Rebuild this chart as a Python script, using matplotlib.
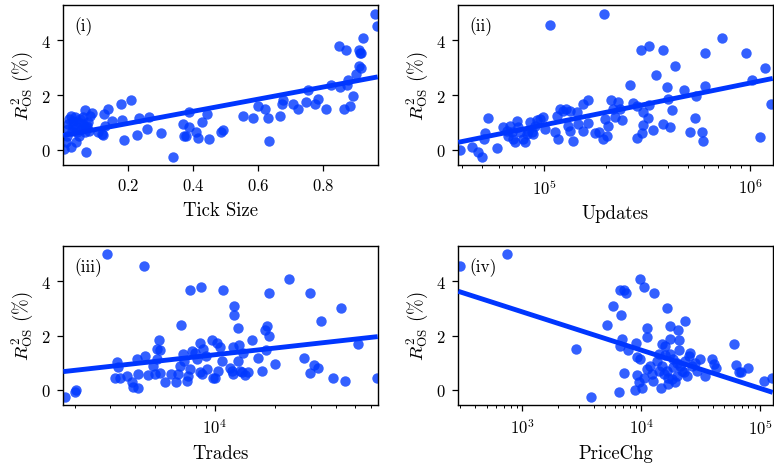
import numpy as np
import matplotlib
matplotlib.use("Agg")
import matplotlib.pyplot as plt

# ---------------- data ----------------
tick_x = [0.959, 0.964, 0.921, 0.847, 0.869, 0.908, 0.916, 0.912, 0.911, 0.915,
          0.899, 0.875, 0.851, 0.872, 0.824, 0.753, 0.892, 0.882, 0.864, 0.808,
          0.782, 0.773, 0.746, 0.721, 0.705, 0.677, 0.673, 0.665, 0.634, 0.631,
          0.621, 0.600, 0.583, 0.554,
          0.492, 0.485, 0.449, 0.443, 0.428, 0.415, 0.408, 0.388, 0.386, 0.367,
          0.372, 0.378, 0.338, 0.299, 0.257, 0.264, 0.234, 0.226, 0.207, 0.187,
          0.179, 0.182, 0.149, 0.136, 0.124, 0.123, 0.128, 0.108, 0.118,
          0.003, 0.007, 0.010, 0.013, 0.015, 0.018, 0.023, 0.024, 0.026, 0.029,
          0.031, 0.036, 0.039, 0.041, 0.043, 0.046, 0.049, 0.051, 0.056, 0.060,
          0.062, 0.067, 0.070, 0.074, 0.077, 0.080, 0.082, 0.070, 0.067, 0.087]
tick_y = [4.98, 4.54, 4.10, 3.79, 3.66, 3.66, 3.56, 3.55, 3.07, 3.00,
          2.76, 2.55, 2.28, 2.37, 2.37, 2.20, 1.96, 1.61, 1.49, 1.49,
          1.85, 1.67, 1.73, 1.48, 1.66, 1.83, 1.68, 1.22, 0.32, 1.17,
          1.49, 1.59, 1.16, 1.24,
          0.73, 0.63, 0.39, 1.30, 1.00, 0.41, 0.66, 1.39, 0.84, 0.94,
          0.49, 0.49, -0.28, 0.60, 0.76, 1.18, 1.17, 0.54, 1.83, 0.34,
          1.66, 1.10, 1.04, 1.48, 1.32, 0.52, 0.85, 0.63, 0.57,
          0.02, 0.27, 0.51, 0.76, 0.94, 1.12, 0.09, 1.24, 0.70, 0.88,
          1.06, 1.18, 0.29, 0.63, 0.82, 1.00, 0.51, 1.12, 0.76, 0.94,
          1.18, 0.66, 0.82, 0.88, 1.00, 0.70, 1.24, -0.07, 1.46, 1.34]

upd_x = [38900, 44400, 47400, 50000, 51500, 51100, 53500, 59000, 63200, 65600,
         68100, 66800, 69300, 70700, 72000, 73300, 74800, 76200, 79100, 80500,
         82000, 83600, 85100, 86700, 88500, 90200, 91800, 95300, 98900, 101000,
         113000, 115000, 117000, 119000, 124000, 128000, 133000, 131000, 133000, 138000,
         144000, 146000, 155000, 155000, 163000, 164000, 176000, 185000, 194000, 201000,
         197000, 205000, 212000, 216000, 229000, 233000, 221000, 238000, 271000, 281000,
         303000, 321000, 324000, 303000, 297000, 281000, 339000, 261000, 295000, 323000,
         379000, 348000, 432000, 394000, 401000, 416000, 379000, 408000, 480000, 546000,
         604000, 604000, 540000, 511000, 582000, 593000, 728000, 953000, 1020000, 1190000,
         1270000, 1120000, 107000, 195000]
upd_y = [0.00, 0.09, -0.10, -0.28, 0.61, 0.39, 1.15, 0.05, 0.82, 0.70,
         0.88, 0.51, 0.63, 0.39, 0.27, 1.06, 0.82, 0.63, 0.39, 0.27,
         0.57, 0.70, 1.00, 0.63, 0.57, 0.88, 1.10, 1.12, 1.18, 0.76,
         0.63, 1.24, 0.39, 1.49, 1.43, 1.49, 1.43, 0.88, 0.70, 0.33,
         1.37, 0.94, 1.67, 0.70, 1.83, 0.98, 0.60, 0.63, 0.39, 0.51,
         1.12, 0.88, 1.83, 1.49, 1.73, 1.49, 1.18, 1.10, 1.71, 1.61,
         1.37, 1.16, 1.63, 0.90, 0.61, 0.41, 0.72, 2.38, 3.66, 3.80,
         3.66, 2.74, 3.07, 2.28, 1.85, 1.45, 0.94, 0.82, 2.20, 1.98,
         3.56, 2.34, 1.16, 0.63, 0.66, 0.33, 4.09, 3.56, 2.55, 3.01,
         1.67, 0.45, 4.56, 4.98]

trd_x = [1782, 2000, 2032, 2904, 4426, 3228, 3290, 3170, 3357, 3623,
         3837, 3882, 4111, 4093, 4140, 4477, 4645, 5117, 5272, 5117,
         5309, 4920, 5012, 5309, 5623, 6026, 6383, 6745, 6900, 6683,
         6561, 7223, 7305, 7000, 7500, 8511, 7500, 7650, 7943, 8414,
         8750, 8091, 8414, 9085, 8577, 9624, 10190, 10590, 9016, 9817,
         10400, 11010, 10800, 12500, 12500, 13070, 12350, 13180, 13840, 11880,
         12110, 12350, 13070, 13330, 13590, 14130, 14660, 15240, 16330, 17100,
         17780, 18110, 18620, 17990, 18660, 19950, 23390, 27920, 29790, 29790,
         31190, 32810, 33810, 38640, 42360, 44570, 51520, 64570, 10000]
trd_y = [-0.28, -0.07, 0.01, 4.99, 4.55, 1.04, 0.83, 0.42, 0.42, 0.51,
         0.27, 0.09, 0.06, 1.14, 0.60, 1.25, 0.54, 1.12, 1.83, 1.49,
         1.47, 0.88, 0.57, 0.61, 0.27, 0.57, 0.29, 2.38, 1.31, 0.88,
         0.57, 0.33, 0.51, 1.06, 3.69, 3.79, 0.76, 1.43, 1.37, 1.73,
         1.49, 1.13, 0.64, 0.76, 0.57, 1.84, 1.74, 1.59, 1.25, 0.42,
         0.70, 3.69, 1.06, 3.08, 2.74, 2.29, 1.59, 1.64, 1.35, 0.82,
         0.70, 0.57, 1.06, 0.70, 0.64, 0.54, 0.66, 1.83, 1.16, 0.70,
         2.20, 2.35, 1.98, 1.47, 3.57, 0.94, 4.10, 1.16, 3.57, 0.61,
         0.91, 0.82, 2.53, 0.42, 3.02, 0.33, 1.68, 0.45, 0.42]

pc_x = [298, 748, 2831, 3793, 5200, 5848, 9817, 10470, 6653, 7194,
        7430, 12880, 6776, 16440, 17330, 20230, 23500, 11170, 11170, 6871,
        6653, 7816, 9078, 14930, 15920, 17540, 20890, 20650, 9186, 9817,
        7194, 6561, 8892, 10140, 9506, 9186, 10470, 11170, 11910, 12700,
        12300, 14650, 13550, 14930, 15420, 16440, 16980, 18110, 19360, 19990,
        17330, 18710, 19990, 21330, 22750, 24270, 25880, 26730, 25060, 28510,
        31050, 29440, 34590, 39450, 40740, 42850, 59980, 63240, 66070, 69180,
        79250, 107400, 126200, 14000, 15920, 18370, 22030, 14000, 16980, 23500]
pc_y = [4.57, 4.99, 1.49, -0.28, 2.39, 3.08, 4.10, 3.79, 3.67, 3.67,
        3.57, 3.57, 2.75, 3.02, 2.35, 2.20, 2.53, 2.29, 1.96, 1.86,
        1.61, 1.47, 1.74, 1.68, 1.61, 1.86, 1.83, 1.46, 1.19, 1.13,
        0.61, -0.07, 0.00, 0.05, 0.29, 0.54, 0.45, 0.76, 0.88, 0.33,
        0.57, 0.05, 1.06, 0.88, 0.57, 0.70, 0.45, 0.39, 0.27, 0.51,
        1.31, 1.13, 1.00, 0.88, 0.64, 0.51, 1.37, 0.88, 1.25, 0.98,
        1.13, 0.70, 0.51, 1.15, 0.94, 0.82, 1.68, 0.91, 0.64, 0.64,
        0.82, 0.33, 0.45, 1.31, 1.28, 0.84, 0.70, 0.70, 0.21, 1.06]

# fitted lines: R2 = intercept + slope * x   (log10(x) for log panels)
fit_tick = (0.52, 2.22)
fit_upd = (-6.745, 1.531)
fit_trd = (-1.996, 0.822)
fit_pc = (7.095, -1.408)

xlabels = ["Tick Size", "Updates", "Trades", "PriceChg"]
panel_tags = ["(i)", "(ii)", "(iii)", "(iv)"]
xlims = [(0.0, 0.967), (3.82e4, 1.29e6), (1750, 6.49e4), (289, 1.28e5)]
ylim = (-0.55, 5.3)
yticks = [0, 2, 4]

# ---------------- style ----------------
plt.rcParams.update({
    "font.family": "serif",
    "font.serif": ["cmr10"],
    "mathtext.fontset": "cm",
    "axes.formatter.use_mathtext": True,
    "axes.unicode_minus": False,
})

POINT_COLOR = "#0038ff"
LINE_COLOR = "#0036ff"

fig = plt.figure(figsize=(7.74, 4.64), dpi=100)
W, H = 774.0, 464.0
boxes = [(63.3, 6.0, 377.7, 165.7), (458.3, 6.0, 772.7, 165.7),
         (63.3, 247.0, 377.7, 405.7), (458.3, 247.0, 772.7, 405.7)]

datasets = [(tick_x, tick_y, fit_tick, False),
            (upd_x, upd_y, fit_upd, True),
            (trd_x, trd_y, fit_trd, True),
            (pc_x, pc_y, fit_pc, True)]

for i, ((x0, y0, x1, y1), (xs, ys, fit, logx)) in enumerate(zip(boxes, datasets)):
    ax = fig.add_axes([x0 / W, 1 - y1 / H, (x1 - x0) / W, (y1 - y0) / H])
    ax.scatter(xs, ys, s=56, color=POINT_COLOR, alpha=0.8, linewidths=0, zorder=2)
    lo, hi = xlims[i]
    if logx:
        ax.set_xscale("log")
        xx = np.logspace(np.log10(lo), np.log10(hi), 100)
        yy = fit[0] + fit[1] * np.log10(xx)
    else:
        xx = np.linspace(lo, hi, 100)
        yy = fit[0] + fit[1] * xx
    ax.plot(xx, yy, color=LINE_COLOR, lw=3.5, zorder=3, solid_capstyle="butt")
    ax.set_xlim(lo, hi)
    ax.set_ylim(*ylim)
    ax.set_yticks(yticks)
    if not logx:
        ax.set_xticks([0.2, 0.4, 0.6, 0.8])
    ax.tick_params(axis="both", which="major", labelsize=12, length=4, width=0.9, pad=5)
    ax.tick_params(axis="x", which="minor", length=2.5, width=0.7)
    ax.set_xlabel(xlabels[i], fontsize=13.5, labelpad=5.5)
    ax.set_ylabel(r"$R^2_{\mathrm{OS}}$ (%)", fontsize=13.5, labelpad=4)
    for sp in ax.spines.values():
        sp.set_linewidth(1.0)
    ax.text(0.035, 0.87, panel_tags[i], transform=ax.transAxes,
            fontsize=12.5, ha="left", va="center")

fig.savefig("out.png", dpi=100)
